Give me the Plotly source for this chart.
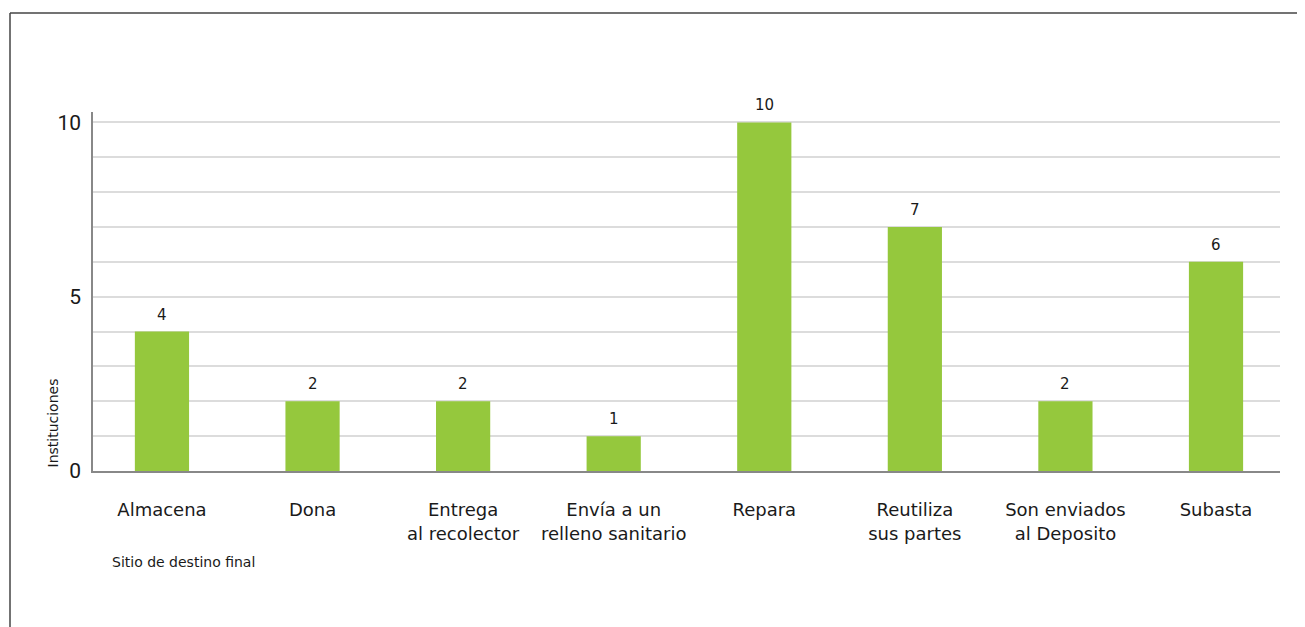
import plotly.graph_objects as go

categories = ["Almacena", "Dona", "Entrega<br>al recolector", "Envía a un<br>relleno sanitario",
              "Repara", "Reutiliza<br>sus partes", "Son enviados<br>al Deposito", "Subasta"]
values = [4, 2, 2, 1, 10, 7, 2, 6]
y_tickvals = [0, 1, 2, 3, 4, 5, 6, 7, 8, 9, 10]
y_ticktext = ["0", "", "", "", "", "5", "", "", "", "", "10"]

FONT = "Roboto"
FONT2 = "DejaVu Sans"
OFF = 8  # page body margin
W, H = 1305 - OFF, 627 - OFF
L, R, T, B = 93 - OFF, 25, 112 - OFF, 156
pw, ph = W - L - R, H - T - B


def px(xpage):
    return (xpage - OFF - L) / pw


def py(ypage):
    return (H - B - (ypage - OFF)) / ph


fig = go.Figure(go.Bar(
    x=categories, y=values, width=0.36,
    marker=dict(color="#95c83d", line=dict(width=0)),
    cliponaxis=False,
))

label_annotations = [
    dict(x=c, y=v, text=str(v), xref="x", yref="y", showarrow=False,
         xanchor="center", yanchor="bottom", yshift=6,
         font=dict(family=FONT2, size=15, color="#1a1a1a"))
    for c, v in zip(categories, values)
]

fig.update_layout(
    width=W, height=H,
    margin=dict(l=L, r=R, t=T, b=B),
    plot_bgcolor="white", paper_bgcolor="white",
    showlegend=False,
    font=dict(family=FONT, color="#222"),
    xaxis=dict(
        type="category", range=[-0.458, 7.425],
        showline=True, linecolor="#888", linewidth=1.5,
        ticks="", ticklabelstandoff=22,
        tickfont=dict(family=FONT2, size=18, color="#1a1a1a"),
        showgrid=False,
    ),
    yaxis=dict(
        range=[0, 10.3], tickvals=y_tickvals, ticktext=y_ticktext,
        showline=True, linecolor="#888", linewidth=1.5,
        showgrid=True, gridcolor="#dcdcdc", gridwidth=1.5,
        ticks="", ticklabelstandoff=6,
        tickfont=dict(family=FONT, size=21, color="#1a1a1a"),
        zeroline=False,
    ),
    annotations=label_annotations + [
        dict(text="Instituciones", textangle=-90, xref="paper", yref="paper",
             x=px(52), y=py(470), xanchor="center", yanchor="bottom",
             showarrow=False, font=dict(family=FONT2, size=14, color="#1a1a1a")),
        dict(text="Sitio de destino final", xref="paper", yref="paper",
             x=px(110), y=py(562), xanchor="left", yanchor="middle",
             showarrow=False, font=dict(family=FONT2, size=14, color="#1a1a1a")),
    ],
    shapes=[
        dict(type="line", xref="paper", yref="paper",
             x0=px(10), x1=px(10), y0=py(13), y1=py(640),
             line=dict(color="#444", width=1.5)),
        dict(type="line", xref="paper", yref="paper",
             x0=px(10), x1=px(1320), y0=py(13), y1=py(13),
             line=dict(color="#444", width=1.5)),
    ],
)

fig.write_html("out.html")
